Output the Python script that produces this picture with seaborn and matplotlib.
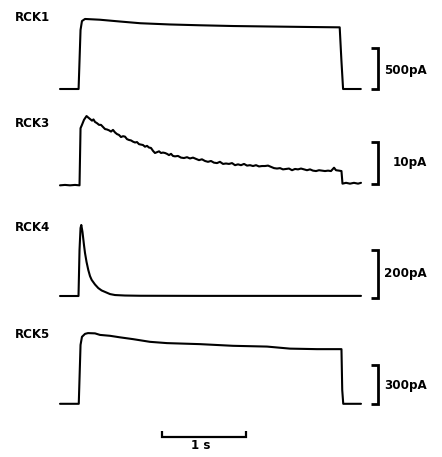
import numpy as np
import pandas as pd
import matplotlib
matplotlib.use("Agg")
import matplotlib.pyplot as plt
import seaborn as sns

# ---------------- data (time in s, current in pA) ----------------
rck1_t = [0.00, 0.22, 0.243, 0.26, 0.296, 0.47, 0.71, 0.95, 1.30, 1.66, 2.05,
          2.49, 2.96, 3.31, 3.33, 3.35, 3.56]
rck1_i = [0, 0, 720, 829, 854, 845, 823, 802, 787, 777, 768,
          762, 756, 752, 354, 0, 0]

rck3_t = [0.000, 0.059, 0.118, 0.178, 0.231, 0.243, 0.260, 0.284, 0.314, 0.331,
          0.355, 0.379, 0.396, 0.414, 0.438, 0.462, 0.485, 0.509, 0.533, 0.556,
          0.580, 0.604, 0.627, 0.651, 0.675, 0.698, 0.722, 0.746, 0.769, 0.793,
          0.817, 0.840, 0.864, 0.888, 0.911, 0.935, 0.959, 0.982, 1.006, 1.030,
          1.053, 1.077, 1.101, 1.124, 1.148, 1.172, 1.195, 1.219, 1.243, 1.266,
          1.290, 1.314, 1.337, 1.361, 1.396, 1.432, 1.467, 1.503, 1.538, 1.574,
          1.609, 1.645, 1.680, 1.716, 1.751, 1.787, 1.822, 1.858, 1.893, 1.929,
          1.964, 2.000, 2.036, 2.071, 2.107, 2.142, 2.178, 2.213, 2.249, 2.284,
          2.320, 2.355, 2.391, 2.426, 2.462, 2.497, 2.533, 2.568, 2.604, 2.639,
          2.675, 2.710, 2.746, 2.781, 2.817, 2.852, 2.888, 2.923, 2.959, 2.994,
          3.030, 3.065, 3.101, 3.136, 3.172, 3.207, 3.243, 3.266, 3.302, 3.331,
          3.343, 3.385, 3.432, 3.479, 3.527, 3.562]
rck3_i = [-0.2, -0.1, -0.2, -0.1, -0.2, 13.4, 14.2, 15.4, 16.3, 16.0,
          15.6, 15.2, 15.5, 14.9, 14.6, 14.2, 14.2, 13.7, 13.2, 13.1,
          12.9, 12.6, 13.0, 12.4, 12.0, 11.8, 11.3, 11.5, 11.4, 10.8,
          10.6, 10.5, 10.2, 10.0, 10.1, 9.6, 9.5, 9.4, 9.0, 9.2,
          8.8, 8.7, 8.0, 7.5, 7.7, 7.9, 7.5, 7.6, 7.5, 7.3,
          7.0, 7.3, 6.8, 6.7, 6.8, 6.4, 6.3, 6.5, 6.2, 6.4,
          6.1, 5.8, 6.0, 5.6, 5.4, 5.6, 5.2, 5.1, 5.4, 4.9,
          5.0, 4.9, 5.1, 4.6, 4.8, 4.6, 4.9, 4.5, 4.6, 4.4,
          4.6, 4.3, 4.4, 4.4, 4.5, 4.2, 3.9, 3.8, 3.9, 3.6,
          3.7, 3.8, 3.4, 3.7, 3.6, 3.8, 3.6, 3.4, 3.6, 3.3,
          3.2, 3.4, 3.3, 3.2, 3.3, 3.2, 4.0, 3.4, 3.3, 3.2,
          0.2, 0.4, 0.2, 0.4, 0.2, 0.4]

rck4_t = [0.00, 0.219, 0.231, 0.243, 0.252, 0.266, 0.284, 0.296, 0.314, 0.335,
          0.355, 0.375, 0.414, 0.453, 0.493, 0.533, 0.592, 0.651, 0.769, 0.947,
          1.657, 2.604, 3.562]
rck4_i = [0, 0, 192, 283, 296, 267, 212, 179, 142, 108,
          83, 67, 48, 33, 23, 17, 8, 4, 2, 1,
          0.5, 0.5, 0.5]

rck5_t = [0.00, 0.222, 0.243, 0.260, 0.296, 0.331, 0.414, 0.473, 0.592, 0.710,
          0.864, 1.065, 1.266, 1.657, 2.047, 2.450, 2.722, 3.041, 3.331, 3.340,
          3.352, 3.562]
rck5_i = [0, 0, 459, 522, 545, 551, 549, 537, 530, 518,
          504, 483, 473, 465, 452, 446, 430, 426, 426, 108,
          0, 0]

trace_names = ["RCK1", "RCK3", "RCK4", "RCK5"]
bar_amps = [500, 10, 200, 300]          # pA
bar_labels = ["500pA", "10pA", "200pA", "300pA"]
time_bar_len = 1.0                       # s
time_bar_label = "1 s"

# ---------------- layout (pixels) ----------------
W, H = 442, 457
X0, PX_PER_S = 60.0, 84.5
# (top, bottom, baseline_px, px_per_pA, bar_offset_pA, label_baseline_px, bar_text_x_s, bar_text_base_pA)
layout = [
    (0, 110, 89.0, 0.082, 0.0, 21, 3.834, 183),
    (110, 210, 184.5, 4.2, 0.0, 127, 3.94, 4.4),
    (210, 310, 296.0, 0.24, -9.0, 231, 3.834, 79),
    (310, 457, 403.8, 0.1283, 0.0, 338, 3.834, 116),
]
traces = [(rck1_t, rck1_i), (rck3_t, rck3_i), (rck4_t, rck4_i), (rck5_t, rck5_i)]

sns.set_style("white")
plt.rcParams['font.family'] = ['DejaVu Sans']
plt.rcParams['text.color'] = 'black'

fig = plt.figure(figsize=(W / 100, H / 100), dpi=100)
xlim = (-X0 / PX_PER_S, (W - X0) / PX_PER_S)
bar_x = 3.763
tick_len = 0.085
FS = 8.6

for k, (name, (tt, ii), amp, blab, lay) in enumerate(zip(trace_names, traces, bar_amps, bar_labels, layout)):
    top, bot, base, s, off, lab_y, txt_x, txt_y = lay
    ax = fig.add_axes([0, 1 - bot / H, 1, (bot - top) / H])
    df = pd.DataFrame({"t": tt, "i": ii})
    sns.lineplot(data=df, x="t", y="i", ax=ax, color="black", linewidth=1.5,
                 estimator=None, sort=False)
    ax.set_xlim(xlim)
    ax.set_ylim(-(bot - base) / s, (base - top) / s)
    ax.axis("off")
    # vertical scale bar (bracket)
    y0, y1 = off, off + amp
    ax.plot([bar_x - tick_len, bar_x, bar_x, bar_x - tick_len], [y0, y0, y1, y1],
            color="black", linewidth=2.0, solid_joinstyle="miter", solid_capstyle="butt")
    ax.text(txt_x, txt_y, blab, fontsize=FS, fontweight="bold", color="black",
            ha="left", va="baseline")
    fig.text(15 / W, 1 - lab_y / H, name, fontsize=FS, fontweight="bold", color="black",
             ha="left", va="baseline")
    if k == 3:
        # time scale bar
        tb0 = 1.207
        yb = (base - 437) / s
        ytk = (base - 431) / s
        ax.plot([tb0, tb0, tb0 + time_bar_len, tb0 + time_bar_len], [ytk, yb, yb, ytk],
                color="black", linewidth=1.6, solid_joinstyle="miter", solid_capstyle="butt")
        ax.text(tb0 + time_bar_len / 2 - 0.04, (base - 449) / s, time_bar_label, fontsize=FS,
                fontweight="bold", color="black", ha="center", va="baseline")

fig.savefig("out.png", dpi=100)
